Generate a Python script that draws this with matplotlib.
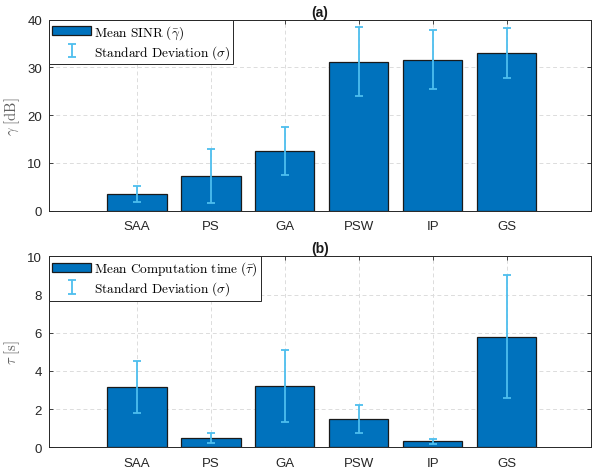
import numpy as np
import matplotlib.pyplot as plt

plt.rcParams['mathtext.fontset'] = 'cm'
plt.rcParams['font.family'] = ['Liberation Sans', 'DejaVu Sans']

# Datos
metodos = ['SAA', 'PS', 'GA', 'PSW', 'IP', 'GS']
sinr_media = [3.5, 7.3, 12.5, 31.2, 31.6, 33.1]
sinr_std = [1.65, 5.6, 5.05, 7.2, 6.2, 5.25]
tiempo_media = [3.17, 0.48, 3.22, 1.49, 0.31, 5.8]
tiempo_std = [1.36, 0.26, 1.87, 0.72, 0.12, 3.2]

azul = '#0072BD'
celeste = '#4DBEEE'
gris = '#262626'

fig = plt.figure(figsize=(5.93, 4.77), dpi=100)
ax1 = fig.add_axes([49/593, 1 - 211.7/477, 542/593, 191/477])
ax2 = fig.add_axes([49/593, 1 - 448.3/477, 542/593, 191/477])

paneles = [
    (ax1, sinr_media, sinr_std, 40, 10, r'$\gamma\ [\mathrm{dB}]$',
     r'$\mathrm{Mean\ SINR}\ (\bar{\gamma})$', '(a)'),
    (ax2, tiempo_media, tiempo_std, 10, 2, r'$\tau\ [\mathrm{s}]$',
     r'$\mathrm{Mean\ Computation\ time}\ (\bar{\tau})$', '(b)'),
]

x = np.arange(1, len(metodos) + 1)

for ax, media, std, ymax, paso, ylab, lab_media, titulo in paneles:
    ax.set_axisbelow(True)
    ax.bar(x, media, width=0.8, color=azul, edgecolor='#1a1a1a',
           linewidth=0.9, label=lab_media)
    ax.errorbar(x, media, yerr=std, fmt='none', ecolor=celeste,
                elinewidth=1.3, capsize=3.2, capthick=1.3,
                label=r'$\mathrm{Standard\ Deviation}\ (\sigma)$')
    ax.set_xlim(-0.19, 7.14)
    ax.set_ylim(0, ymax)
    ax.set_yticks(np.arange(0, ymax + paso, paso))
    ax.set_xticks(x)
    ax.set_xticklabels(metodos)
    ax.grid(True, linestyle=(0, (4, 3)), color='#dcdcdc', linewidth=0.7)
    ax.tick_params(direction='in', length=3, width=0.6, colors=gris,
                   labelsize=9.5, top=True, right=True, pad=5)
    ax.tick_params(axis='x', pad=7)
    for s in ax.spines.values():
        s.set_color(gris)
        s.set_linewidth(0.7)
    ax.set_ylabel(ylab, fontsize=10.5, color='#606060', labelpad=4)
    ax.set_title(titulo, fontsize=10, fontweight='bold', color='#1a1a1a', pad=3)
    leg = ax.legend(loc='upper left', borderaxespad=0, fontsize=9.6,
                    handlelength=2.9, handletextpad=0.2, labelspacing=0.15,
                    borderpad=0.25, fancybox=False, framealpha=1,
                    edgecolor=gris)
    leg.get_frame().set_linewidth(0.7)

plt.savefig('out.png', dpi=100)
